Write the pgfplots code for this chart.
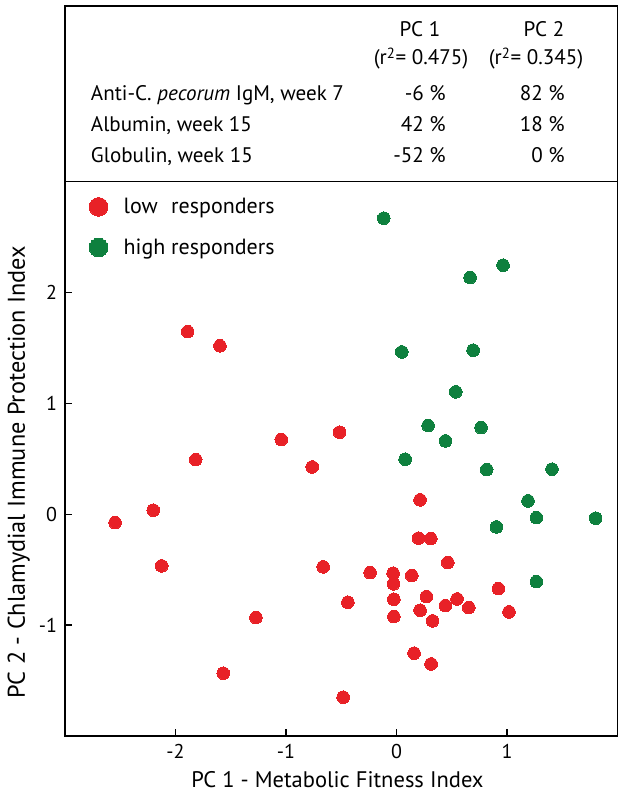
\documentclass[border=0pt]{standalone}
\usepackage{pgfplots}
\pgfplotsset{compat=1.18}
\usepackage{fontspec}
\setmainfont{PT Sans}
\definecolor{myred}{RGB}{232,33,39}
\definecolor{mygreen}{RGB}{14,128,62}
\begin{document}
\begin{tikzpicture}
\path[use as bounding box] (0,0) rectangle (468.75pt,596.25pt);
\begin{axis}[
  at={(48.75pt,44.25pt)}, anchor=south west,
  scale only axis, width=414.4pt, height=415.9pt,
  xmin=-3, xmax=2, ymin=-2, ymax=3,
  xtick={-2,-1,0,1}, ytick={-1,0,1,2},
  tick pos=left, tick align=inside, major tick length=5pt,
  every tick/.style={black, line width=0.9pt},
  axis line style={line width=1pt},
  /pgf/number format/assume math mode=true,
  ticklabel style={font=\fontsize{15}{18}\selectfont},
  xticklabel style={anchor=base, yshift=-16.7pt},
  yticklabel style={anchor=east, xshift=-2.5pt},
  xlabel={PC 1 - Metabolic Fitness Index},
  ylabel={PC 2 - Chlamydial Immune Protection Index},
  xlabel style={font=\fontsize{16.9}{20}\selectfont, at={(axis description cs:0.493,-0.092)}, anchor=base},
  ylabel style={font=\fontsize{18.2}{21}\selectfont, at={(axis description cs:-0.0724,0.476)}, anchor=base},
  legend style={at={(axis description cs:0.0434,0.9715)}, anchor=north west, draw=none, fill=none,
    font=\fontsize{16.5}{19}\selectfont, column sep=11.75pt, row sep=16.5pt, inner sep=0pt,
    nodes={inner sep=0pt}},
  legend cell align=left,
  legend image code/.code={\draw[#1, mark size=7pt] plot coordinates {(0pt,0pt)};},
]
\addplot[only marks, mark=*, mark size=4.75pt, color=myred, mark options={fill=myred, draw=myred, line width=0pt}] coordinates {
(-1.890,1.646) (-1.598,1.518) (-1.043,0.673) (-0.515,0.739) (-1.817,0.492)
(-0.763,0.426) (0.213,0.129) (-2.547,-0.076) (-2.201,0.036) (-2.125,-0.466)
(0.199,-0.216) (0.310,-0.220) (-0.664,-0.475) (0.464,-0.436) (-0.239,-0.527)
(-0.031,-0.532) (0.138,-0.553) (-0.027,-0.628) (0.922,-0.671) (-0.440,-0.794)
(-0.024,-0.767) (0.271,-0.743) (0.548,-0.764) (0.443,-0.824) (0.654,-0.842)
(0.213,-0.866) (1.018,-0.881) (-0.024,-0.923) (0.326,-0.962) (-1.272,-0.932)
(0.159,-1.253) (0.313,-1.350) (-1.568,-1.434) (-0.483,-1.650)
};
\addlegendentry{\rlap{low}\phantom{high} responders}
\addplot[only marks, mark=*, mark size=4.75pt, color=mygreen, mark options={fill=mygreen, draw=mygreen, line width=0pt}] coordinates {
(-0.115,2.669) (0.964,2.245) (0.666,2.134) (0.048,1.463) (0.693,1.479)
(0.536,1.103) (0.286,0.799) (0.765,0.781) (0.443,0.661) (0.078,0.496)
(0.816,0.402) (1.407,0.406) (1.190,0.120) (1.266,-0.031) (1.802,-0.036)
(0.904,-0.115) (1.266,-0.608)
};
\addlegendentry{high responders}
\end{axis}
\begin{scope}[x=0.75pt,y=-0.75pt,shift={(0pt,596.25pt)}]
\draw[line width=1pt] (65,6) rectangle (617.5,181.5);
\begin{scope}[every node/.style={inner sep=0pt, font=\fontsize{15.8}{18}\selectfont}]
\node[anchor=base] at (420,36.7) {PC 1};
\node[anchor=base] at (544,36.7) {PC 2};
\node[anchor=base] at (421,65) {(r\textsuperscript{2}= 0.475)};
\node[anchor=base] at (536,65) {(r\textsuperscript{2}= 0.345)};
\node[anchor=base west] at (90.7,101) {Anti-C. \textit{pecorum} IgM, week 7};
\node[anchor=base west] at (90.7,132) {Albumin, week 15};
\node[anchor=base west] at (90.7,163) {Globulin, week 15};
\node[anchor=base east] at (446,101) {-6 \%};
\node[anchor=base east] at (446,132) {42 \%};
\node[anchor=base east] at (446,163) {-52 \%};
\node[anchor=base east] at (565,101) {82 \%};
\node[anchor=base east] at (565,132) {18 \%};
\node[anchor=base east] at (565,163) {0 \%};
\end{scope}
\end{scope}
\end{tikzpicture}
\end{document}
